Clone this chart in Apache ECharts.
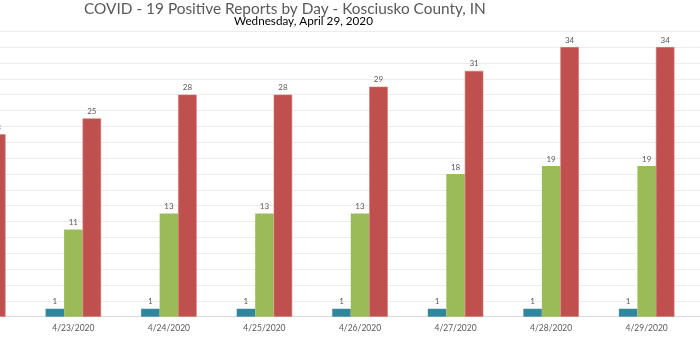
<!DOCTYPE html>
<html>
<head>
<meta charset="utf-8">
<script src="https://cdn.jsdelivr.net/npm/echarts@6/dist/echarts.min.js"></script>
<style>
  html, body { margin: 0; padding: 0; background: #fff; overflow: hidden; width: 700px; height: 350px; position: relative; }
  /* the plot runs past both edges of the window, so the chart box is wider than the page */
  #chart { position: absolute; left: -70px; top: 0; width: 860px; height: 350px; }
</style>
</head>
<body>
<div id="chart"></div>
<script>
// Daily report dates
const dates = ['4/22/2020', '4/23/2020', '4/24/2020', '4/25/2020', '4/26/2020', '4/27/2020', '4/28/2020', '4/29/2020'];
// Series values per day
const deaths    = [1, 1, 1, 1, 1, 1, 1, 1];
const recovered = [11, 11, 13, 13, 13, 18, 19, 19];
const positive  = [23, 25, 28, 28, 29, 31, 34, 34];
// Value axis range
const yMin = 0, yMax = 36, yStep = 2;

const FONT = 'Lato, "DejaVu Sans", sans-serif';
const labelStyle = { show: true, position: 'top', distance: 3, color: '#595959', fontSize: 8, fontFamily: FONT };

const chart = echarts.init(document.getElementById('chart'), null, { renderer: 'canvas' });
chart.setOption({
  animation: false,
  backgroundColor: '#ffffff',
  title: [
    { text: 'COVID - 19 Positive Reports by Day - Kosciusko County, IN', left: 149, top: -3,
      textStyle: { color: '#595959', fontSize: 15.4, fontWeight: 'normal', fontFamily: FONT } },
    { text: 'Wednesday, April 29, 2020', left: 299, top: 10,
      textStyle: { color: '#000000', fontSize: 11.7, fontWeight: 'normal', fontFamily: FONT } }
  ],
  grid: { left: 0, right: 0, top: 31.2, bottom: 33.3, containLabel: false },
  xAxis: {
    type: 'category',
    data: dates,
    max: dates.length,
    axisLine: { show: true, lineStyle: { color: '#d9d9d9', width: 1 } },
    axisTick: { show: false },
    axisLabel: { color: '#595959', fontSize: 8.5, fontFamily: FONT, margin: 7 }
  },
  yAxis: {
    type: 'value',
    min: yMin, max: yMax, interval: yStep,
    axisLine: { show: false },
    axisTick: { show: false },
    axisLabel: { show: false },
    splitLine: { lineStyle: { color: '#ececec', width: 1 } }
  },
  series: [
    { name: 'Deaths', type: 'bar', data: deaths, barWidth: 18.5, barGap: '0%',
      itemStyle: { color: '#31859c' }, label: labelStyle },
    { name: 'Recovered', type: 'bar', data: recovered, barWidth: 18.5, barGap: '0%',
      itemStyle: { color: '#9bbb59' }, label: labelStyle },
    { name: 'Positive', type: 'bar', data: positive, barWidth: 18.5, barGap: '0%',
      itemStyle: { color: '#c0504d', borderColor: '#d2736f', borderWidth: 0.6 }, label: labelStyle }
  ]
});
</script>
</body>
</html>
